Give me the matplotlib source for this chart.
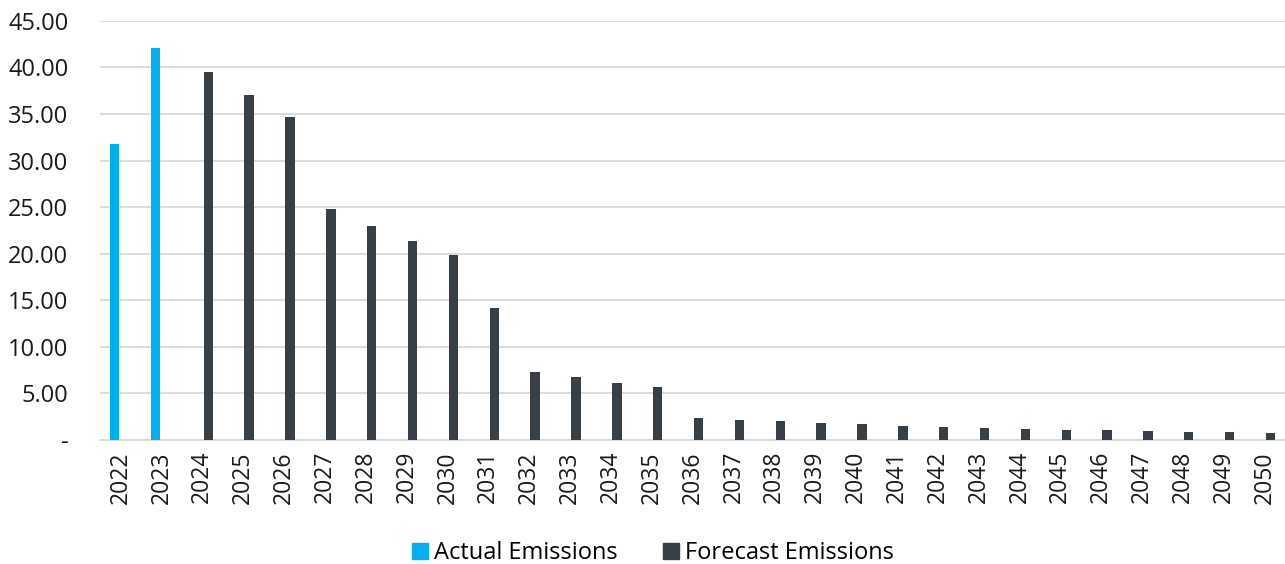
import numpy as np
import matplotlib.pyplot as plt
from matplotlib.patches import Patch
from matplotlib.ticker import FuncFormatter

plt.rcParams['font.family'] = ['Open Sans', 'DejaVu Sans']

years = list(range(2022, 2051))
actual = [31.76, 42.1]
forecast = [39.5, 37.0, 34.66, 24.8, 23.0, 21.4, 19.9, 14.2, 7.3, 6.8, 6.1, 5.7,
            2.36, 2.15, 2.0, 1.83, 1.68, 1.54, 1.43, 1.29, 1.18, 1.11, 1.04, 0.97,
            0.86, 0.82, 0.75]

cyan = '#00B0F0'
dark = '#373F47'
grid = '#D9D9D9'

fig = plt.figure(figsize=(12.85, 5.64), dpi=100)
ax = fig.add_axes([0.078, 0.22, 0.922, 0.743])

x = np.arange(len(years))
w = 0.23
off = 0.145
ax.bar(x[:len(actual)] - off, actual, width=w, color=cyan, zorder=3)
ax.bar(x[len(actual):] + off, forecast, width=w, color=dark, zorder=3)

ax.set_xlim(-0.5, len(years) - 0.5)
ax.set_ylim(0, 45)
ax.set_yticks(np.arange(0, 46, 5))
ax.yaxis.set_major_formatter(FuncFormatter(lambda v, p: '-' if v == 0 else f'{v:.2f}'))
ax.set_xticks(x)
ax.set_xticklabels([str(y) for y in years], rotation=90)
ax.tick_params(axis='both', length=0, colors='#1a1a1a')
ax.tick_params(axis='x', pad=8, labelsize=16.5)
ax.tick_params(axis='y', pad=23, labelsize=17)
ax.grid(axis='y', color=grid, linewidth=1.3, zorder=0)
for s in ['top', 'right', 'left']:
    ax.spines[s].set_visible(False)
ax.spines['bottom'].set_color(grid)
ax.spines['bottom'].set_linewidth(1.3)

handles = [Patch(color=cyan, label='Actual Emissions'),
           Patch(color=dark, label='Forecast Emissions')]
fig.legend(handles=handles, loc='center', bbox_to_anchor=(0.508, 0.019), ncol=2,
           frameon=False, fontsize=17, handlelength=0.7, handleheight=0.7,
           handletextpad=0.25, columnspacing=1.9)

fig.savefig('out.png', dpi=100)
